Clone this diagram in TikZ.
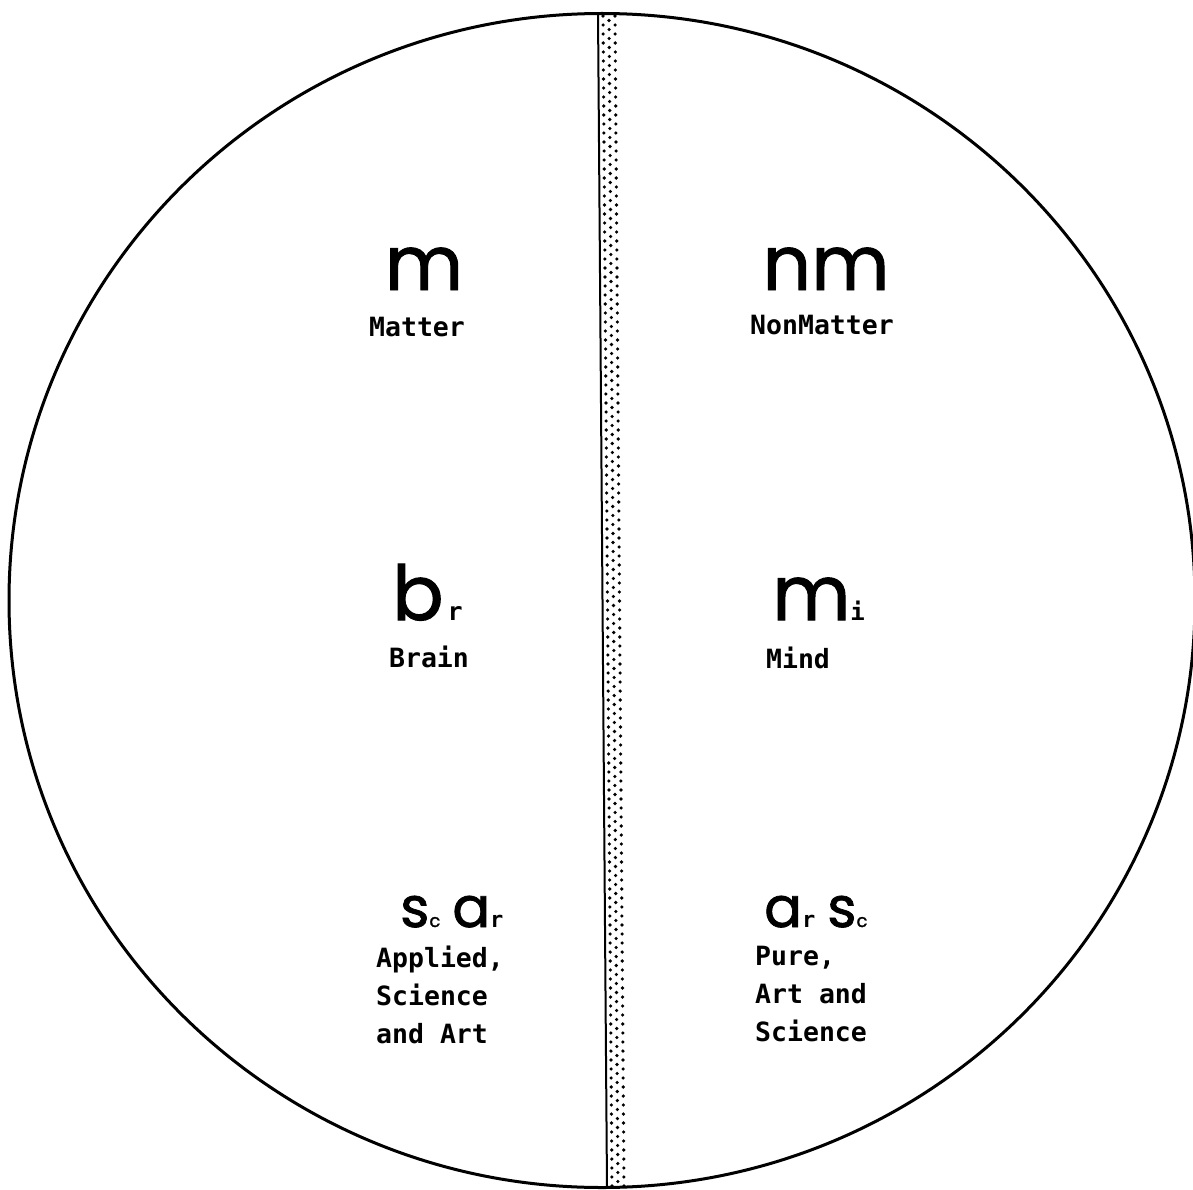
\documentclass[tikz,border=0pt]{standalone}
\usepackage{fontspec}
\newfontfamily\geo{Poppins}[FakeBold=1.3]
\newfontfamily\mono{DejaVu Sans Mono}
\begin{document}
\begin{tikzpicture}[x=1pt,y=-1pt,
  bigsym/.style={font=\geo\fontsize{76}{76}\selectfont, inner sep=0pt},
  midsym/.style={font=\geo\fontsize{56}{56}\selectfont, inner sep=0pt},
  lab/.style={font=\mono\bfseries\fontsize{26.5}{38}\selectfont, inner sep=0pt},
  labblock/.style={lab, align=left},
  dot/.style={fill=black}]
\fill[white] (0,0) rectangle (1193,1190);
\useasboundingbox (0,0) rectangle (1193,1190);
% outer circle
\draw[line width=3pt] (602,600.5) ellipse [x radius=593pt, y radius=587pt];
% dotted dividing band
\begin{scope}
  \clip (598,13) -- (621,13) -- (630,1188) -- (607,1188) -- cycle;
  \foreach \k [evaluate=\k as \yy using 16+9*\k,
               evaluate=\k as \xx using 598+9*(3+9*\k)/1175] in {0,...,131} {
    \fill[dot] (\xx+5,\yy) circle[radius=1.8pt];
    \fill[dot] (\xx+17,\yy) circle[radius=1.8pt];
    \fill[dot] (\xx+11,\yy+4.5) circle[radius=1.8pt];
  }
\end{scope}
\draw[line width=2pt] (598,13) -- (607,1188);
% left column
\node[bigsym, anchor=base] (m) at (424,290) {m};
\node[lab] (matter) at (417,327) {Matter};
\node[bigsym, anchor=base west] (br) at (392,620) {b\hspace{4pt}{\mono\bfseries\fontsize{25}{25}\selectfont r}};
\node[lab] (brain) at (429,657) {Brain};
\node[midsym, anchor=base west] (scar) at (400,927) {s{\fontsize{18}{18}\selectfont c}\hspace{12pt}a{\mono\bfseries\fontsize{22}{22}\selectfont r}};
\node[labblock, anchor=north west] (applied) at (376,946) {Applied,\\Science\\and Art};
% right column
\node[bigsym, anchor=base] (nm) at (826,290) {nm};
\node[lab] (nonmatter) at (822,325) {NonMatter};
\node[bigsym, anchor=base west] (mi) at (772,620) {m{\mono\bfseries\fontsize{24}{24}\selectfont i}};
\node[lab] (mind) at (798,658) {Mind};
\node[midsym, anchor=base west] (arsc) at (764,927) {a{\mono\bfseries\fontsize{22}{22}\selectfont r}\hspace{12pt}s{\fontsize{18}{18}\selectfont c}};
\node[labblock, anchor=north west] (pure) at (755,946) {Pure,\\Art and\\Science};
\end{tikzpicture}
\end{document}
